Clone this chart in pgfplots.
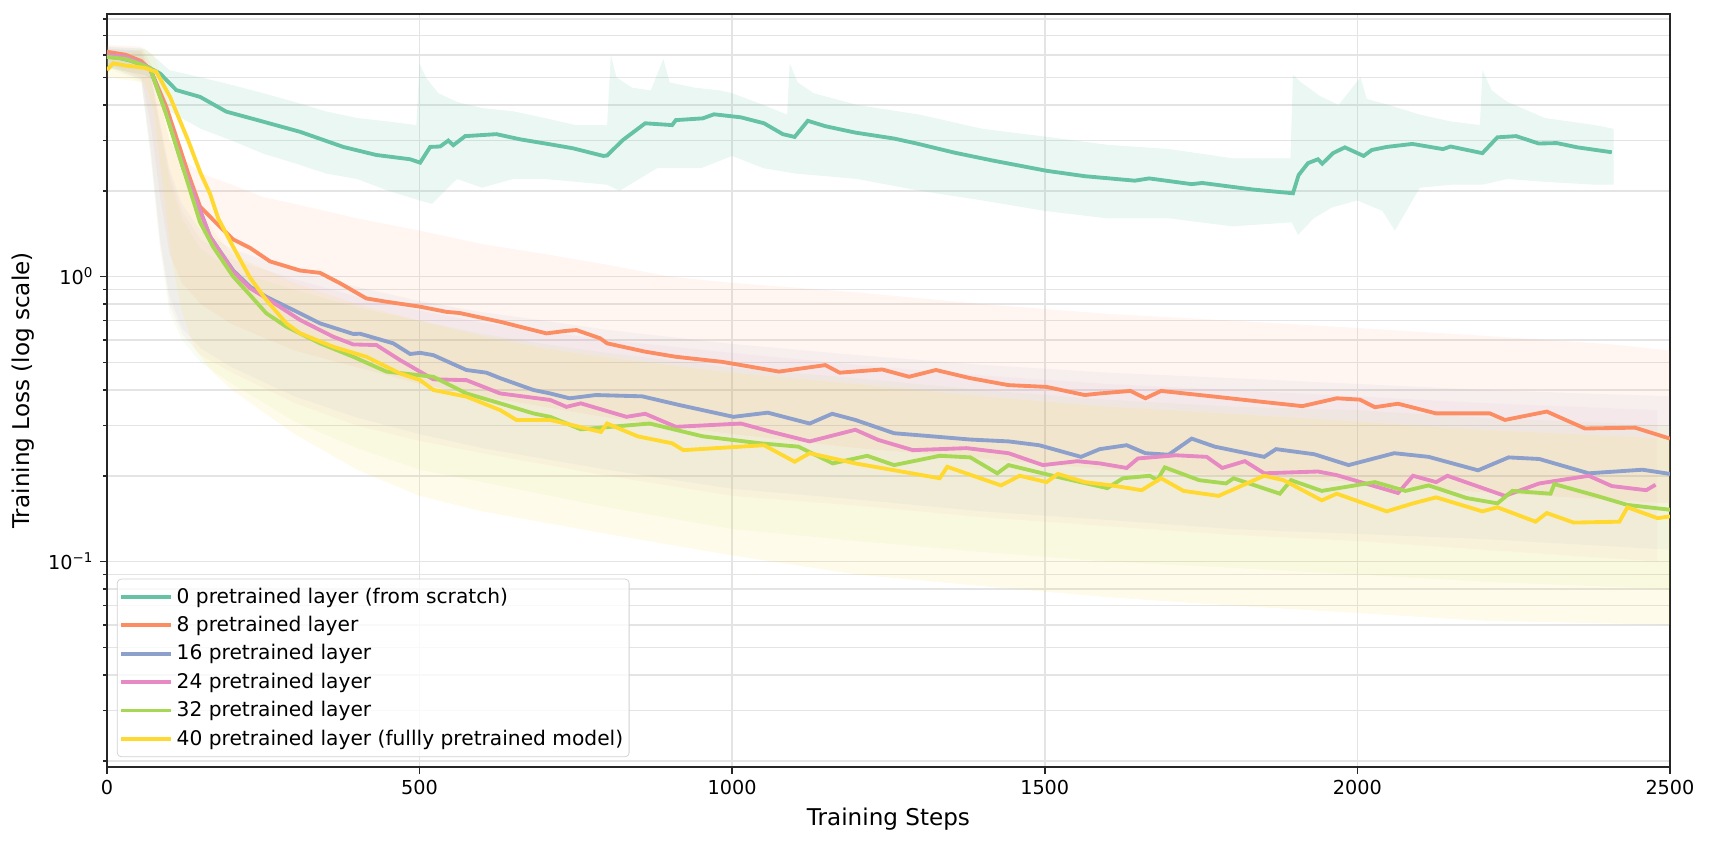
\documentclass[border=0pt]{standalone}
\usepackage{fontspec}
\setmainfont{DejaVu Sans}
\usepackage{pgfplots}
\pgfplotsset{compat=1.18}
\definecolor{cA}{HTML}{66C2A5}
\definecolor{cB}{HTML}{FC8D62}
\definecolor{cC}{HTML}{8DA0CB}
\definecolor{cD}{HTML}{E78AC3}
\definecolor{cE}{HTML}{A6D854}
\definecolor{cF}{HTML}{FFD92F}
\definecolor{gridc}{RGB}{228,228,228}
\begin{document}
\begin{tikzpicture}
\begin{axis}[
  scale only axis, width=812.8pt, height=391.6pt,
  ymode=log, xmin=0, xmax=2500, ymin=0.0190, ymax=8.34,
  xtick={0,500,1000,1500,2000,2500},
  ytick={0.1,1}, yticklabels={10\textsuperscript{−1},10\textsuperscript{0}},
  minor ytick={0.02,0.03,0.04,0.05,0.06,0.07,0.08,0.09,0.2,0.3,0.4,0.5,0.6,0.7,0.8,0.9,2,3,4,5,6,7,8},
  tick align=outside, tick pos=left,
  major tick length=3.5pt, minor tick length=2pt,
  every tick/.style={black!85, line width=0.8pt},
  grid=both,
  major grid style={gridc, line width=0.8pt},
  minor grid style={gridc, line width=0.8pt},
  axis line style={black!85, line width=0.8pt},
  tick label style={font=\fontsize{10}{12}\selectfont},
  /pgf/number format/assume math mode=true,
  /pgf/number format/1000 sep={},
  xlabel={Training Steps}, ylabel={Training Loss (log scale)},
  label style={font=\fontsize{12}{14}\selectfont},
  xlabel style={at={(axis description cs:0.5,-0.0685)}, anchor=center},
  ylabel style={at={(axis description cs:-0.0535,0.5)}, anchor=center},
  legend style={at={(0,0)}, anchor=south west, xshift=5.2pt, yshift=5.2pt,
    draw={rgb,255:red,210;green,210;blue,210}, rounded corners=2pt,
    fill=white, fill opacity=0.8, text opacity=1,
    font=\fontsize{10.5}{12.5}\selectfont, row sep=1.3pt,
    inner xsep=1pt, inner ysep=2.5pt,
    nodes={inner xsep=2.1pt}},
  legend cell align=left,
  legend image code/.code={\draw[#1, line width=2pt] (0pt,0pt) -- (22.8pt,0pt); \path (0pt,0pt) -- (25.8pt,0pt);},
]
% ---------- raw-loss haze (envelopes) ----------
\addplot[draw=none, fill=cA, fill opacity=0.13, forget plot] coordinates {
(0,6.4) (60,6.3) (80,5.8) (100,5.3) (150,5.0) (200,4.7) (250,4.4) (300,4.1) (350,3.8) (400,3.6) (450,3.5) (495,3.4) (500,5.6) (510,5.0) (530,4.4) (560,4.1) (600,3.9) (650,3.8) (700,3.6) (750,3.4) (800,3.4) (806,6.0) (815,5.0) (840,4.6) (870,4.5) (890,5.8) (900,4.8) (940,4.6) (980,4.5) (1000,4.4) (1050,4.0) (1088,3.7) (1092,5.6) (1105,4.8) (1130,4.4) (1200,4.0) (1300,3.7) (1400,3.3) (1500,3.1) (1600,2.9) (1700,2.8) (1800,2.6) (1893,2.6) (1897,5.1) (1910,4.8) (1940,4.3) (1970,4.0) (2005,5.0) (2015,4.2) (2050,4.0) (2100,3.7) (2150,3.5) (2196,3.4) (2200,5.3) (2215,4.5) (2240,4.1) (2300,3.6) (2380,3.4) (2410,3.3)
(2410,2.1) (2380,2.1) (2300,2.15) (2240,2.2) (2200,2.1) (2150,2.1) (2100,2.05) (2060,1.45) (2040,1.7) (2000,1.85) (1960,1.75) (1930,1.6) (1905,1.4) (1895,1.55) (1800,1.5) (1700,1.6) (1600,1.6) (1500,1.7) (1400,1.85) (1300,2.0) (1200,2.2) (1100,2.3) (1050,2.4) (1000,2.65) (950,2.4) (880,2.4) (820,2.0) (800,2.1) (750,2.15) (700,2.2) (650,2.2) (600,2.05) (560,2.2) (520,1.8) (500,1.85) (450,2.0) (400,2.2) (350,2.3) (300,2.5) (250,2.7) (200,3.0) (150,3.3) (100,3.8) (80,4.8) (60,5.1) (0,5.4)
} -- cycle;
\addplot[draw=none, fill=cB, fill opacity=0.09, forget plot] coordinates {
(0,6.5) (55,6.4) (70,5.6) (85,4.2) (100,3.0) (120,2.6) (150,2.3) (200,2.1) (250,1.9) (300,1.8) (400,1.6) (500,1.45) (600,1.3) (700,1.2) (800,1.1) (900,1.0) (1000,0.95) (1200,0.88) (1400,0.8) (1600,0.74) (1800,0.7) (2000,0.66) (2200,0.62) (2400,0.58) (2500,0.55)
(2500,0.16) (2400,0.165) (2200,0.175) (2000,0.19) (1800,0.2) (1600,0.21) (1400,0.23) (1200,0.25) (1000,0.28) (800,0.32) (600,0.38) (500,0.42) (400,0.48) (300,0.55) (200,0.68) (150,0.8) (120,0.95) (100,1.2) (85,1.9) (70,3.4) (55,5.0) (0,5.6)
} -- cycle;
\addplot[draw=none, fill=cC, fill opacity=0.07, forget plot] coordinates {
(0,6.3) (55,6.2) (70,5.2) (85,3.5) (100,2.4) (120,1.8) (150,1.45) (200,1.25) (300,1.05) (400,0.92) (500,0.82) (600,0.75) (700,0.7) (800,0.65) (1000,0.58) (1200,0.53) (1400,0.49) (1600,0.46) (1800,0.44) (2000,0.42) (2200,0.4) (2500,0.38)
(2500,0.11) (2200,0.12) (2000,0.125) (1800,0.13) (1600,0.14) (1400,0.15) (1200,0.165) (1000,0.18) (800,0.21) (600,0.25) (500,0.28) (400,0.32) (300,0.38) (200,0.48) (150,0.56) (120,0.66) (100,0.85) (85,1.35) (70,2.8) (55,4.9) (0,5.5)
} -- cycle;
\addplot[draw=none, fill=cD, fill opacity=0.07, forget plot] coordinates {
(0,6.3) (55,6.2) (70,5.2) (85,3.4) (100,2.3) (120,1.7) (150,1.35) (200,1.15) (300,0.98) (400,0.85) (500,0.76) (600,0.69) (700,0.64) (800,0.6) (1000,0.54) (1200,0.49) (1400,0.45) (1600,0.42) (1800,0.4) (2000,0.38) (2200,0.36) (2480,0.34)
(2480,0.1) (2200,0.11) (2000,0.118) (1800,0.124) (1600,0.133) (1400,0.143) (1200,0.157) (1000,0.17) (800,0.2) (600,0.24) (500,0.265) (400,0.3) (300,0.36) (200,0.46) (150,0.53) (120,0.63) (100,0.8) (85,1.3) (70,2.7) (55,4.9) (0,5.5)
} -- cycle;
\addplot[draw=none, fill=cE, fill opacity=0.07, forget plot] coordinates {
(0,6.2) (55,6.1) (70,5.0) (85,3.3) (100,2.2) (120,1.6) (150,1.25) (200,1.05) (300,0.9) (400,0.78) (500,0.7) (600,0.63) (700,0.58) (800,0.54) (1000,0.48) (1200,0.44) (1400,0.4) (1600,0.37) (1800,0.35) (2000,0.34) (2200,0.32) (2500,0.3)
(2500,0.08) (2200,0.085) (2000,0.09) (1800,0.095) (1600,0.1) (1400,0.108) (1200,0.118) (1000,0.13) (800,0.155) (600,0.19) (500,0.21) (400,0.25) (300,0.31) (200,0.42) (150,0.5) (120,0.6) (100,0.75) (85,1.25) (70,2.6) (55,4.8) (0,5.4)
} -- cycle;
\addplot[draw=none, fill=cF, fill opacity=0.1, forget plot] coordinates {
(0,6.0) (60,6.3) (75,6.0) (90,4.8) (105,3.5) (120,2.6) (140,1.9) (170,1.45) (200,1.2) (300,0.95) (400,0.8) (500,0.7) (600,0.62) (700,0.56) (800,0.52) (1000,0.46) (1200,0.42) (1400,0.38) (1600,0.35) (1800,0.33) (2000,0.31) (2200,0.29) (2500,0.27)
(2500,0.06) (2200,0.062) (2000,0.066) (1800,0.07) (1600,0.075) (1400,0.082) (1200,0.09) (1000,0.105) (800,0.125) (600,0.15) (500,0.17) (400,0.21) (300,0.28) (200,0.4) (170,0.46) (140,0.56) (120,0.75) (105,1.1) (90,2.0) (75,3.8) (60,4.8) (0,5.0)
} -- cycle;
% ---------- smoothed curves ----------
\addplot[cA, line width=2pt] coordinates {
(0,5.9) (20,5.85) (40,5.7) (60,5.5) (69,5.38) (85,5.16) (111,4.51) (149,4.27) (191,3.79) (245,3.52) (309,3.22) (378,2.85) (431,2.67) (485,2.58) (501,2.51) (517,2.85) (533,2.86) (546,3.0) (554,2.89) (573,3.11) (623,3.16) (661,3.03) (709,2.91) (745,2.82) (794,2.65) (800,2.66) (825,3.01) (861,3.45) (904,3.40) (910,3.54) (953,3.59) (971,3.71) (1014,3.62) (1051,3.45) (1081,3.16) (1100,3.09) (1121,3.52) (1149,3.37) (1197,3.20) (1259,3.05) (1295,2.93) (1356,2.72) (1418,2.55) (1503,2.35) (1564,2.25) (1644,2.17) (1667,2.21) (1735,2.11) (1752,2.13) (1833,2.02) (1897,1.96) (1906,2.27) (1921,2.50) (1937,2.58) (1944,2.49) (1961,2.71) (1980,2.84) (2010,2.65) (2023,2.78) (2047,2.85) (2088,2.92) (2137,2.80) (2149,2.86) (2200,2.71) (2224,3.08) (2254,3.11) (2290,2.93) (2319,2.94) (2352,2.84) (2407,2.73)
};
\addlegendentry{0 pretrained layer (from scratch)}
\addplot[cB, line width=2pt] coordinates {
(0,6.15) (30,6.0) (55,5.7) (70,5.3) (95,3.94) (130,2.3) (149,1.76) (175,1.54) (202,1.35) (229,1.26) (261,1.13) (309,1.05) (341,1.03) (373,0.947) (415,0.838) (447,0.816) (501,0.784) (543,0.752) (564,0.745) (629,0.694) (703,0.632) (735,0.645) (751,0.649) (789,0.607) (800,0.583) (861,0.545) (910,0.523) (984,0.502) (1075,0.464) (1149,0.489) (1172,0.46) (1240,0.472) (1283,0.445) (1326,0.47) (1381,0.44) (1442,0.416) (1503,0.41) (1564,0.384) (1588,0.389) (1637,0.397) (1661,0.374) (1686,0.397) (1772,0.379) (1845,0.364) (1912,0.351) (1967,0.374) (2004,0.37) (2028,0.348) (2065,0.358) (2126,0.331) (2212,0.331) (2236,0.314) (2303,0.336) (2364,0.293) (2444,0.295) (2500,0.270)
};
\addlegendentry{8 pretrained layer}
\addplot[cC, line width=2pt] coordinates {
(0,6.0) (30,5.9) (55,5.6) (69,5.38) (95,3.74) (122,2.4) (149,1.71) (165,1.38) (202,1.05) (229,0.921) (255,0.849) (309,0.743) (341,0.685) (394,0.629) (405,0.63) (458,0.583) (485,0.535) (501,0.54) (522,0.530) (575,0.470) (607,0.46) (629,0.44) (682,0.40) (709,0.389) (740,0.374) (782,0.384) (856,0.38) (916,0.354) (1002,0.322) (1057,0.333) (1124,0.305) (1160,0.33) (1197,0.314) (1259,0.282) (1320,0.275) (1381,0.268) (1442,0.264) (1491,0.256) (1558,0.233) (1588,0.248) (1631,0.256) (1661,0.24) (1698,0.237) (1735,0.27) (1772,0.253) (1851,0.233) (1870,0.248) (1931,0.238) (1986,0.218) (2059,0.24) (2114,0.233) (2193,0.209) (2242,0.232) (2291,0.229) (2370,0.204) (2456,0.21) (2500,0.203)
};
\addlegendentry{16 pretrained layer}
\addplot[cD, line width=2pt] coordinates {
(0,6.0) (30,5.9) (55,5.6) (69,5.38) (95,3.74) (122,2.45) (149,1.7) (165,1.38) (202,1.04) (229,0.91) (255,0.84) (309,0.704) (362,0.615) (394,0.578) (431,0.575) (469,0.509) (522,0.436) (575,0.433) (629,0.389) (709,0.369) (735,0.349) (758,0.359) (831,0.322) (861,0.33) (910,0.297) (1014,0.305) (1063,0.285) (1124,0.264) (1197,0.29) (1234,0.267) (1289,0.246) (1375,0.25) (1442,0.24) (1497,0.218) (1552,0.225) (1588,0.221) (1631,0.213) (1649,0.23) (1710,0.236) (1759,0.233) (1784,0.213) (1820,0.225) (1851,0.204) (1937,0.207) (1967,0.201) (2065,0.174) (2089,0.2) (2126,0.19) (2144,0.2) (2236,0.17) (2291,0.188) (2370,0.2) (2407,0.184) (2462,0.178) (2477,0.186)
};
\addlegendentry{24 pretrained layer}
\addplot[cE, line width=2pt] coordinates {
(0,5.9) (30,5.8) (55,5.55) (69,5.38) (95,3.7) (122,2.4) (149,1.55) (170,1.27) (202,1.0) (229,0.861) (255,0.743) (287,0.667) (341,0.583) (394,0.523) (447,0.464) (522,0.445) (575,0.389) (629,0.359) (682,0.331) (709,0.322) (758,0.291) (868,0.305) (953,0.275) (1045,0.26) (1106,0.253) (1161,0.221) (1216,0.235) (1259,0.218) (1332,0.235) (1381,0.232) (1424,0.204) (1442,0.218) (1521,0.198) (1600,0.181) (1625,0.196) (1668,0.2) (1680,0.193) (1692,0.214) (1747,0.193) (1790,0.188) (1802,0.196) (1876,0.173) (1894,0.193) (1943,0.177) (2028,0.19) (2077,0.177) (2114,0.185) (2175,0.167) (2224,0.16) (2248,0.177) (2309,0.173) (2315,0.187) (2383,0.17) (2432,0.158) (2500,0.152)
};
\addlegendentry{32 pretrained layer}
\addplot[cF, line width=2pt] coordinates {
(0,5.3) (10,5.6) (30,5.5) (60,5.4) (79,5.23) (101,4.27) (130,3.0) (150,2.3) (165,1.95) (178,1.6) (202,1.27) (229,0.99) (255,0.827) (287,0.685) (309,0.632) (362,0.567) (415,0.523) (469,0.457) (501,0.433) (522,0.4) (575,0.379) (629,0.340) (655,0.314) (709,0.314) (790,0.285) (800,0.305) (849,0.275) (904,0.26) (922,0.246) (1051,0.256) (1100,0.224) (1124,0.24) (1197,0.221) (1332,0.196) (1344,0.215) (1430,0.185) (1460,0.2) (1503,0.19) (1521,0.203) (1564,0.19) (1607,0.185) (1655,0.178) (1686,0.196) (1722,0.177) (1778,0.17) (1851,0.2) (1882,0.193) (1943,0.164) (1967,0.173) (2047,0.15) (2089,0.16) (2126,0.168) (2200,0.15) (2224,0.155) (2285,0.138) (2303,0.148) (2346,0.137) (2419,0.138) (2432,0.155) (2480,0.142) (2500,0.144)
};
\addlegendentry{40 pretrained layer (fullly pretrained model)}
\end{axis}
\pgfresetboundingbox
\path[use as bounding box] ([xshift=-55.6pt,yshift=-41.1pt]current axis.south west) rectangle ([xshift=20.3pt,yshift=7.3pt]current axis.north east);
\end{tikzpicture}
\end{document}
